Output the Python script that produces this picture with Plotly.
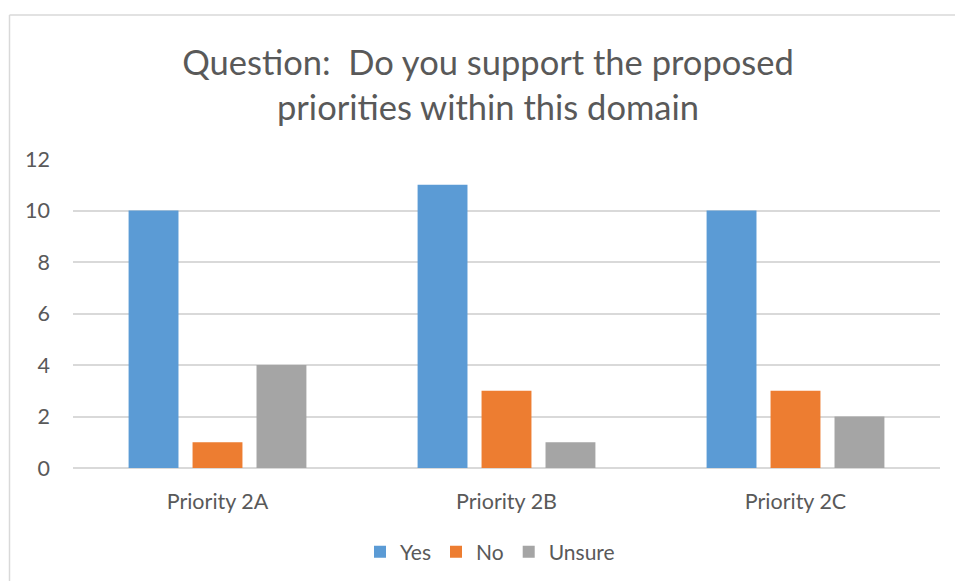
import plotly.graph_objects as go

# Survey responses per priority
categories = ["Priority 2A", "Priority 2B", "Priority 2C"]
yes_counts = [10, 11, 10]
no_counts = [1, 3, 3]
unsure_counts = [4, 1, 2]
y_ticks = [0, 2, 4, 6, 8, 10, 12]

TEXT = "#595959"
GRID = "#D9D9D9"
FONT = "Lato, 'Open Sans', sans-serif"

W, H = 955, 581
ML, MR, MT, MB = 73, 15, 159, 113
PW, PH = W - ML - MR, H - MT - MB


def px_x(px):
    return (px - ML) / PW


def px_y(py):
    return 1 - (py - MT) / PH


fig = go.Figure()
fig.add_trace(go.Bar(name="Yes", x=categories, y=yes_counts, marker_color="#5B9BD5"))
fig.add_trace(go.Bar(name="No", x=categories, y=no_counts, marker_color="#ED7D31"))
fig.add_trace(go.Bar(name="Unsure", x=categories, y=unsure_counts, marker_color="#A5A5A5"))

fig.update_traces(marker_line_width=0)

fig.update_layout(
    width=W,
    height=H,
    margin=dict(l=ML, r=MR, t=MT, b=MB, autoexpand=False),
    paper_bgcolor="white",
    plot_bgcolor="white",
    barmode="group",
    bargap=0.336,
    bargroupgap=0.22,
    font=dict(family=FONT, color=TEXT),
    title=dict(
        text="Question:  Do you support the proposed<br>priorities within this domain",
        x=488 / W,
        xanchor="center",
        y=1 - 75 / H,
        yanchor="middle",
        font=dict(family=FONT, size=34.5, color=TEXT),
    ),
    xaxis=dict(
        showgrid=False,
        showline=False,
        ticks="",
        tickfont=dict(size=21.5, color=TEXT),
        ticklabelstandoff=18,
    ),
    yaxis=dict(
        range=[0, 12],
        tickvals=y_ticks,
        showgrid=True,
        gridcolor=GRID,
        gridwidth=1.5,
        zeroline=True,
        zerolinecolor=GRID,
        zerolinewidth=1.5,
        showline=False,
        ticks="",
        tickfont=dict(size=21.5, color=TEXT),
        ticklabelstandoff=22,
    ),
    legend=dict(
        orientation="h",
        x=px_x(490),
        xanchor="center",
        yref="container",
        y=1 - 552 / H,
        yanchor="middle",
        font=dict(size=21, color=TEXT),
        itemwidth=30,
        traceorder="normal",
    ),
    shapes=[
        # chart frame: left and top edges
        dict(type="line", xref="paper", yref="paper",
             x0=px_x(9.5), x1=px_x(9.5), y0=px_y(15), y1=px_y(600),
             line=dict(color=GRID, width=1.5)),
        dict(type="line", xref="paper", yref="paper",
             x0=px_x(9.5), x1=px_x(980), y0=px_y(15), y1=px_y(15),
             line=dict(color=GRID, width=1.5)),
    ],
    showlegend=True,
)

fig.write_html("out.html")
